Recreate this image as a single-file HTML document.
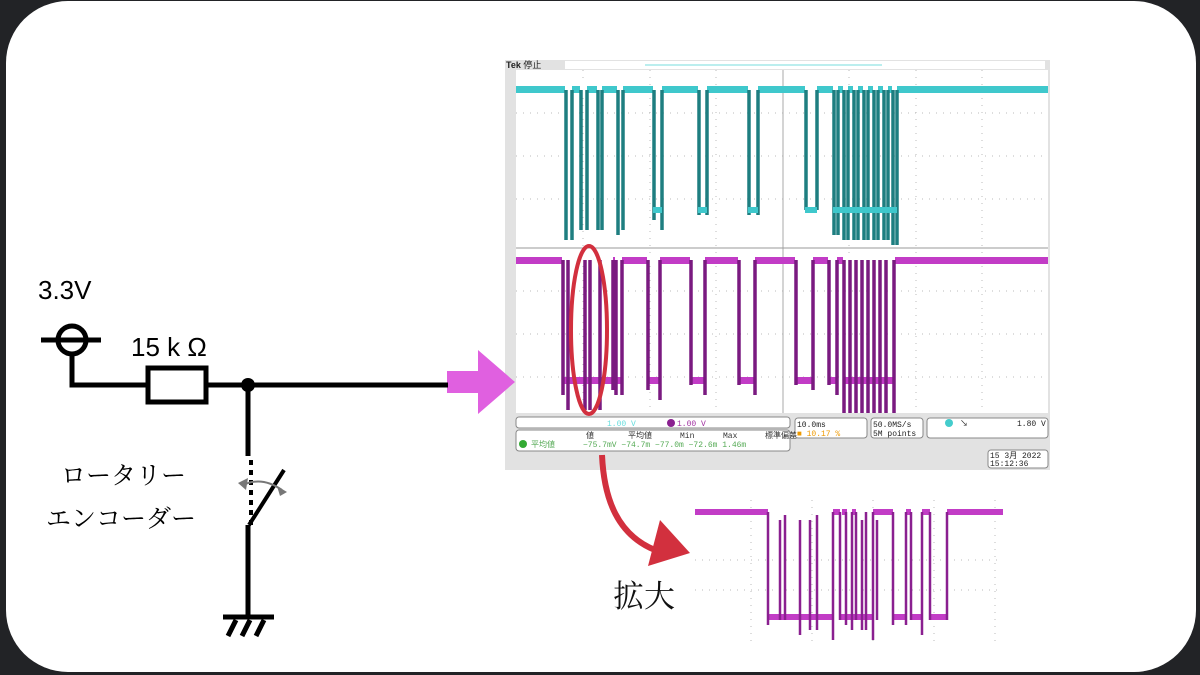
<!DOCTYPE html>
<html><head><meta charset="utf-8"><style>
html,body{margin:0;padding:0;width:1200px;height:675px;overflow:hidden;background:#222326}
#card{position:absolute;left:6px;top:1px;width:1190px;height:671px;background:#fff;border-radius:62px;overflow:hidden}
svg{position:absolute;left:0;top:0}
</style></head><body>
<div id="card"></div>
<svg width="1200" height="675" viewBox="0 0 1200 675" xmlns="http://www.w3.org/2000/svg">
<!-- scope -->
<rect x="505" y="60" width="545" height="410" fill="#e2e2e2"/>
<rect x="516" y="70" width="532" height="343" fill="#fff"/>
<text x="506" y="68" font-family="Liberation Sans, Noto Sans CJK JP, sans-serif" font-size="9" font-weight="bold" fill="#222">Tek <tspan font-weight="normal">停止</tspan></text>
<rect x="565" y="61" width="480" height="8" fill="#fff"/>
<line x1="645" y1="65" x2="882" y2="65" stroke="#7dd" stroke-width="1"/>
<g stroke="#bbb" stroke-width="1" stroke-dasharray="1,6">
<line x1="583" y1="70" x2="583" y2="413"/><line x1="650" y1="70" x2="650" y2="413"/><line x1="716" y1="70" x2="716" y2="413"/>
<line x1="849" y1="70" x2="849" y2="413"/><line x1="916" y1="70" x2="916" y2="413"/><line x1="982" y1="70" x2="982" y2="413"/>
<line x1="516" y1="113" x2="1048" y2="113"/><line x1="516" y1="156" x2="1048" y2="156"/><line x1="516" y1="199" x2="1048" y2="199"/>
<line x1="516" y1="291" x2="1048" y2="291"/><line x1="516" y1="334" x2="1048" y2="334"/><line x1="516" y1="377" x2="1048" y2="377"/>
</g>
<line x1="783" y1="70" x2="783" y2="413" stroke="#aaa" stroke-width="1"/>
<line x1="516" y1="248" x2="1048" y2="248" stroke="#999" stroke-width="1"/>
<!-- cyan -->
<rect x="516" y="86" width="532" height="7" fill="#3fc8cc"/>
<g fill="#fff">
<rect x="565" y="84" width="7" height="10"/><rect x="580" y="84" width="7" height="10"/><rect x="597" y="84" width="5" height="10"/><rect x="617" y="84" width="6" height="10"/>
<rect x="653" y="84" width="9" height="10"/><rect x="698" y="84" width="9" height="10"/><rect x="748" y="84" width="10" height="10"/><rect x="805" y="84" width="12" height="10"/>
<rect x="833" y="84" width="5" height="10"/><rect x="843" y="84" width="5" height="10"/><rect x="853" y="84" width="5" height="10"/><rect x="863" y="84" width="5" height="10"/><rect x="873" y="84" width="5" height="10"/><rect x="883" y="84" width="5" height="10"/><rect x="892" y="84" width="5" height="10"/>
</g>
<g stroke="#1e7e80" stroke-width="3.5" fill="none">
<path d="M566 90V240M572 90V240M581 90V230M587 90V230M598 90V230M602 90V230M618 90V235M623 90V230M654 90V220M662 90V230M699 90V215M707 90V215M749 90V215M758 90V215M806 90V210M817 90V210M834 90V235M838 90V235M844 90V240M848 90V240M854 90V240M858 90V240M864 90V240M868 90V240M874 90V240M878 90V240M884 90V240M888 90V240M893 90V245M897 90V245"/>
</g>
<g fill="#3fc8cc"><rect x="653" y="207" width="9" height="6"/><rect x="698" y="207" width="9" height="6"/><rect x="748" y="207" width="10" height="6"/><rect x="805" y="207" width="12" height="6"/><rect x="833" y="207" width="64" height="6"/></g>
<!-- magenta -->
<rect x="516" y="257" width="532" height="7" fill="#c23cc6"/>
<g fill="#fff">
<rect x="562" y="255" width="51" height="10"/><rect x="615" y="255" width="7" height="10"/><rect x="647" y="255" width="13" height="10"/><rect x="690" y="255" width="15" height="10"/><rect x="738" y="255" width="17" height="10"/><rect x="795" y="255" width="18" height="10"/><rect x="828" y="255" width="9" height="10"/><rect x="843" y="255" width="52" height="10"/>
</g>
<g fill="#c23cc6"><rect x="562" y="377" width="51" height="7"/><rect x="615" y="377" width="7" height="7"/><rect x="647" y="377" width="13" height="7"/><rect x="690" y="377" width="15" height="7"/><rect x="738" y="377" width="17" height="7"/><rect x="795" y="377" width="18" height="7"/><rect x="828" y="377" width="9" height="7"/><rect x="843" y="377" width="52" height="7"/></g>
<g stroke="#7a1a80" stroke-width="3.5">
<path d="M563 260V395M568 260V410M585 260V410M590 260V410M600 260V410M613 260V390M616 260V395M622 260V395M648 260V390M660 260V400M691 260V385M705 260V395M739 260V385M755 260V395M796 260V385M813 260V390M829 260V385M837 260V395M844 260V413M850 260V413M856 260V413M862 260V413M868 260V413M874 260V413M880 260V413M886 260V413M894 260V413"/>
</g>
<!-- info boxes -->
<g fill="#fff" stroke="#888" stroke-width="1">
<rect x="516" y="417" width="274" height="11" rx="3"/><rect x="516" y="430" width="274" height="21" rx="3"/>
<rect x="795" y="418" width="72" height="20" rx="3"/><rect x="871" y="418" width="52" height="20" rx="3"/><rect x="927" y="418" width="121" height="20" rx="3"/>
<rect x="988" y="450" width="60" height="18" rx="3"/>
</g>
<g font-family="Liberation Mono, Noto Sans CJK JP, monospace" font-size="8">
<text x="607" y="426" fill="#6dd">1.00 V</text><circle cx="671" cy="423" r="4" fill="#8a2090"/><text x="677" y="426" fill="#a030a0">1.00 V</text>
<text x="586" y="438" fill="#333">値</text><text x="628" y="438" fill="#333">平均値</text><text x="680" y="438" fill="#333">Min</text><text x="723" y="438" fill="#333">Max</text><text x="765" y="438" fill="#333">標準偏差</text>
<circle cx="523" cy="444" r="4" fill="#3a3"/><text x="531" y="447" fill="#5a5">平均値</text>
<text x="583" y="447" fill="#5a5">−75.7mV −74.7m  −77.0m  −72.6m  1.46m</text>
<text x="797" y="427" fill="#222">10.0ms</text><text x="797" y="436" fill="#e90">■ 10.17 %</text>
<text x="873" y="427" fill="#222">50.0MS/s</text><text x="873" y="436" fill="#222">5M points</text>
<circle cx="949" cy="423" r="4" fill="#4cc"/><text x="960" y="426" fill="#222">↘</text><text x="1017" y="426" fill="#222">1.80 V</text>
<text x="990" y="458" fill="#222">15 3月  2022</text><text x="990" y="466" fill="#222">15:12:36</text>
</g>
<!-- pink arrow -->
<path d="M447 371H478V350L515 382L478 414V393H447Z" fill="#e060e0"/>
<!-- red ellipse & arrow -->
<ellipse cx="589" cy="330" rx="18" ry="84" fill="none" stroke="#d2303e" stroke-width="4"/>
<path d="M602 455C604 500 618 535 655 550" fill="none" stroke="#d2303e" stroke-width="6"/>
<path d="M660 520L690 553L648 566Z" fill="#d2303e"/>
<text x="613" y="607" font-family="Liberation Serif, Noto Serif CJK SC, serif" font-size="31" fill="#111">拡大</text>
<!-- inset -->
<g stroke="#bbb" stroke-dasharray="1,6"><line x1="751" y1="500" x2="751" y2="645"/><line x1="812" y1="500" x2="812" y2="645"/><line x1="873" y1="500" x2="873" y2="645"/><line x1="934" y1="500" x2="934" y2="645"/><line x1="995" y1="500" x2="995" y2="645"/><line x1="695" y1="560" x2="1003" y2="560"/><line x1="695" y1="590" x2="1003" y2="590"/></g>
<g fill="#c23cc6"><rect x="695" y="509" width="73" height="6"/><rect x="833" y="509" width="7" height="6"/><rect x="842" y="509" width="5" height="6"/><rect x="852" y="509" width="4" height="6"/><rect x="873" y="509" width="20" height="6"/><rect x="906" y="509" width="5" height="6"/><rect x="922" y="509" width="8" height="6"/><rect x="947" y="509" width="56" height="6"/>
<rect x="768" y="614" width="65" height="6"/><rect x="840" y="614" width="33" height="6"/><rect x="893" y="614" width="13" height="6"/><rect x="911" y="614" width="11" height="6"/><rect x="930" y="614" width="17" height="6"/></g>
<g stroke="#8a2090" stroke-width="2.5"><path d="M768 512V625M780 520V620M785 515V620M800 520V635M810 520V630M817 515V630M833 512V640M840 512V620M846 512V625M852 512V630M856 512V620M862 520V630M866 512V630M873 512V640M877 520V620M893 512V625M906 512V625M911 512V620M922 512V635M930 512V620M947 512V620"/></g>
<!-- circuit -->
<g stroke="#000" stroke-width="5" fill="none">
<circle cx="72" cy="340" r="14"/>
<line x1="41" y1="340" x2="101" y2="340"/>
<path d="M72 354V385H448"/>
<rect x="148" y="368" width="58" height="34" fill="#fff"/>
<line x1="248" y1="385" x2="248" y2="456"/>
<line x1="251" y1="460" x2="251" y2="530" stroke-dasharray="5,5" stroke-width="4"/>
<line x1="249" y1="525" x2="284" y2="470" stroke-width="4"/>
<line x1="248" y1="525" x2="248" y2="617"/>
<line x1="223" y1="617" x2="274" y2="617"/>
<path d="M236 620L228 636M250 620L242 636M264 620L256 636"/>
</g>
<circle cx="248" cy="385" r="7" fill="#000"/>
<path d="M243 485Q262 476 282 490" stroke="#777" stroke-width="2" fill="none"/>
<path d="M238 483L248 478L246 490Z" fill="#777"/><path d="M287 492L277 486L280 496Z" fill="#777"/>
<g font-family="Liberation Sans, sans-serif" font-size="26" fill="#000">
<text x="38" y="299">3.3V</text><text x="131" y="356">15 k Ω</text>
</g>
<g font-family="Liberation Serif, Noto Serif CJK SC, serif" font-size="25" fill="#000">
<text x="61" y="484">ロータリー</text><text x="46" y="527">エンコーダー</text>
</g>
</svg>
</body></html>
